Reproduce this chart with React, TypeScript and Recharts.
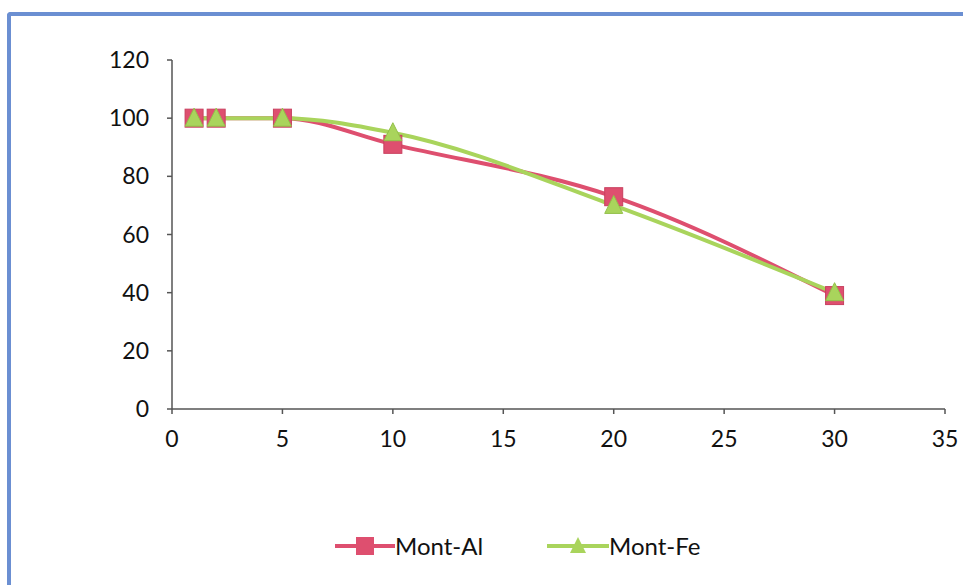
import { LineChart, Line, XAxis, YAxis } from 'recharts';

const time = [1, 2, 5, 10, 20, 30];
const montAl = [100, 100, 100, 91, 73, 39];
const montFe = [100, 100, 100, 95, 70, 40];
const xTicks = [0, 5, 10, 15, 20, 25, 30, 35];
const yTicks = [0, 20, 40, 60, 80, 100, 120];

const AL_COLOR = '#de4f6f';
const FE_COLOR = '#a9d45c';
const FONT = 'Lato, "Open Sans", sans-serif';

const data = time.map((t, i) => ({ t, al: montAl[i], fe: montFe[i] }));

const SquareDot = (props: any) => {
  const { cx, cy } = props;
  if (cx == null || cy == null) return null;
  return <rect x={cx - 9} y={cy - 9} width={18} height={18} fill={AL_COLOR} stroke="#c9405f" strokeWidth={1} />;
};

const TriangleDot = (props: any) => {
  const { cx, cy } = props;
  if (cx == null || cy == null) return null;
  return (
    <polygon
      points={`${cx},${cy - 10} ${cx + 9},${cy + 8} ${cx - 9},${cy + 8}`}
      fill={FE_COLOR}
      stroke="#93c04a"
      strokeWidth={1}
    />
  );
};

const LegendBox = () => (
  <div
    style={{
      position: 'absolute',
      left: 335,
      top: 531,
      display: 'flex',
      alignItems: 'center',
      fontFamily: FONT,
      fontSize: 24,
      color: '#111',
    }}
  >
    <svg width={60} height={20}>
      <line x1={0} y1={10} x2={60} y2={10} stroke={AL_COLOR} strokeWidth={4} />
      <rect x={21} y={1} width={18} height={18} fill={AL_COLOR} />
    </svg>
    <span style={{ width: 152 }}>Mont-Al</span>
    <svg width={62} height={20}>
      <line x1={0} y1={10} x2={62} y2={10} stroke={FE_COLOR} strokeWidth={4} />
      <polygon points="31,1 39,17 23,17" fill={FE_COLOR} />
    </svg>
    <span>Mont-Fe</span>
  </div>
);

export default function App() {
  return (
    <div style={{ position: 'absolute', left: 0, top: 0, width: 963, height: 585, background: '#fff', overflow: 'hidden' }}>
      <div
        style={{
          position: 'absolute',
          left: 7,
          top: 12,
          width: 980,
          height: 600,
          borderLeft: '4px solid #6b8fd2',
          borderTop: '4px solid #6b8fd2',
          borderTopLeftRadius: 4,
        }}
      />
      <div style={{ position: 'absolute', left: 0, top: 0 }}>
        <LineChart
          width={963}
          height={585}
          data={data}
          margin={{ top: 60, right: 18, bottom: 136, left: 100 }}
        >
          <XAxis
            dataKey="t"
            type="number"
            domain={[0, 35]}
            ticks={xTicks}
            interval={0}
            height={40}
            tickSize={5}
            tickMargin={17}
            stroke="#555"
            strokeWidth={1.5}
            tick={{ fill: '#111', fontSize: 23, fontFamily: FONT }}
          />
          <YAxis
            type="number"
            domain={[0, 120]}
            ticks={yTicks}
            interval={0}
            width={72}
            tickSize={5}
            tickMargin={18}
            stroke="#555"
            strokeWidth={1.5}
            tick={{ fill: '#111', fontSize: 23, fontFamily: FONT }}
          />
          <Line
            type="monotone"
            dataKey="al"
            name="Mont-Al"
            stroke={AL_COLOR}
            strokeWidth={4}
            dot={<SquareDot />}
            activeDot={false}
            isAnimationActive={false}
          />
          <Line
            type="monotone"
            dataKey="fe"
            name="Mont-Fe"
            stroke={FE_COLOR}
            strokeWidth={4}
            dot={<TriangleDot />}
            activeDot={false}
            isAnimationActive={false}
          />
        </LineChart>
      </div>
      <LegendBox />
    </div>
  );
}
